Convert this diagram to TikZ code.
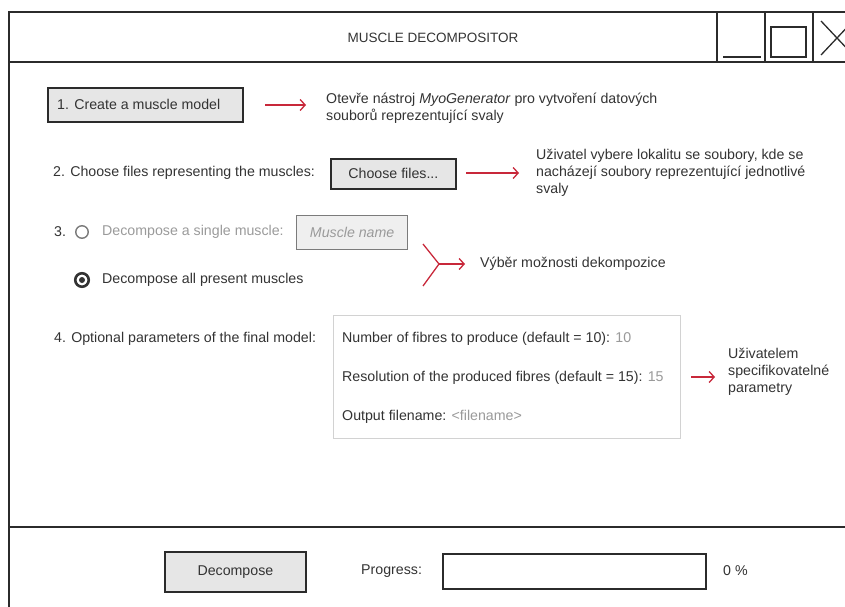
\documentclass[tikz,border=0pt]{standalone}
\usepackage{fontspec}
\setmainfont{Liberation Sans}
\usetikzlibrary{arrows.meta}

\definecolor{ink}{HTML}{333333}
\definecolor{framecol}{HTML}{2B2B2B}
\definecolor{dim}{HTML}{9A9A9A}
\definecolor{radiogrey}{HTML}{7A7A7A}
\definecolor{btnfill}{HTML}{E6E6E6}
\definecolor{fieldfill}{HTML}{EFEFEF}
\definecolor{arrowred}{HTML}{C8283A}
\definecolor{panel}{HTML}{D2D2D2}

\begin{document}
\begin{tikzpicture}[x=1pt,y=-1pt,
  every node/.style={font=\fontsize{14.2}{16.8}\selectfont, text=ink, inner sep=0pt},
  framestroke/.style={draw=framecol, line width=1.8pt},
  thinstroke/.style={draw=framecol, line width=1.3pt},
  button/.style={draw=framecol, line width=1.8pt, fill=btnfill, anchor=north west},
  txt/.style={anchor=west},
  note/.style={anchor=west, align=left},
  greytxt/.style={anchor=west, text=dim},
  redarrow/.style={draw=arrowred, line width=1.3pt,
    -{Straight Barb[length=5pt,width=11pt,line width=1.3pt]}},
  redline/.style={draw=arrowred, line width=1.3pt}
]
\useasboundingbox (0,0) rectangle (845,607);
\clip (0,0) rectangle (845,607);

% window frame, title bar and bottom separator
\draw[framestroke] (9,640) -- (9,12) -- (880,12);
\draw[framestroke] (9,62) -- (880,62);
\draw[framestroke] (9,527) -- (880,527);
\node (title) at (433,38) {\fontsize{13.5}{15}\selectfont MUSCLE DECOMPOSITOR};

% window controls
\draw[thinstroke] (717,12) -- (717,62);
\draw[thinstroke] (765,12) -- (765,62);
\draw[thinstroke] (813,12) -- (813,62);
\draw[thinstroke] (723,57) -- (761,57);
\draw[thinstroke] (771,27) rectangle (806,57);
\draw[thinstroke] (821,21) -- (853,55);
\draw[thinstroke] (821,55) -- (853,21);

% step 1
\node[button, minimum width=195pt, minimum height=34pt] (btn1) at (47,87) {};
\node[txt] (btn1txt) at (57,104) {1. Create a muscle model};
\coordinate (a1s) at (265,105);
\coordinate (a1e) at (306,105);
\draw[redarrow] (a1s) -- (a1e);
\node[note] (note1) at (326,108) {Otevře nástroj \textit{MyoGenerator} pro vytvoření datových\\souborů reprezentující svaly};

% step 2
\node[txt] (step2) at (53,173) {2. Choose files representing the muscles:};
\node[button, minimum width=125pt, minimum height=30pt] (btn2) at (330,158) {};
\node (btn2txt) at (btn2.center) {Choose files...};
\coordinate (a2s) at (466,173);
\coordinate (a2e) at (519,173);
\draw[redarrow] (a2s) -- (a2e);
\node[note] (note2) at (536,173) {Uživatel vybere lokalitu se soubory, kde se\\nacházejí soubory reprezentující jednotlivé\\svaly};

% step 3
\node[txt] (step3) at (54,232) {3.};
\node[circle, draw=radiogrey, line width=1.4pt, minimum size=12.5pt] (radio1) at (82,232) {};
\node[greytxt] (single) at (102,232) {Decompose a single muscle:};
\node[draw=dim!80!black, line width=1.3pt, fill=fieldfill, anchor=north west,
      minimum width=111pt, minimum height=34pt] (field) at (296,215) {};
\node[text=dim] (fieldtxt) at (field.center) {\textit{Muscle name}};
\node[circle, draw=ink, fill=white, line width=2.6pt, minimum size=13.5pt] (radio2) at (82,280) {};
\fill[ink] (radio2.center) circle (3pt);
\node[txt] (all) at (102,280) {Decompose all present muscles};
\coordinate (f1) at (423,244);
\coordinate (f2) at (423,286);
\coordinate (fj) at (439,264);
\coordinate (fe) at (465,264);
\draw[redline] (f1) -- (fj) -- (f2);
\draw[redarrow] (fj) -- (fe);
\node[txt] (note3) at (480,264) {Výběr možnosti dekompozice};

% step 4
\node[txt] (step4) at (54,339) {4. Optional parameters of the final model:};
\node[draw=panel, line width=1pt, fill=white, anchor=north west,
      minimum width=347pt, minimum height=123pt] (params) at (333,315) {};
\node[txt] (p1) at (342,339) {Number of fibres to produce (default = 10): \textcolor{dim}{10}};
\node[txt] (p2) at (342,378) {Resolution of the produced fibres (default = 15): \textcolor{dim}{15}};
\node[txt] (p3) at (342,417) {Output filename: \textcolor{dim}{<filename>}};
\coordinate (a4s) at (691,377);
\coordinate (a4e) at (715,377);
\draw[redarrow] (a4s) -- (a4e);
\node[note] (note4) at (728,372) {Uživatelem\\specifikovatelné\\parametry};

% bottom bar
\node[button, minimum width=141pt, minimum height=40pt] (decomp) at (164,551) {};
\node (decomptxt) at (decomp.center) {Decompose};
\node[txt] (progress) at (361,571) {Progress:};
\node[draw=framecol, line width=1.8pt, fill=white, anchor=north west,
      minimum width=263pt, minimum height=35pt] (bar) at (442,553) {};
\node[txt] (percent) at (723,571) {0 \%};
\end{tikzpicture}
\end{document}
